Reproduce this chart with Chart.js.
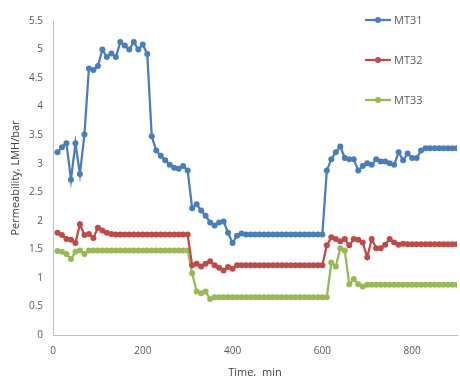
<!DOCTYPE html>
<html>
<head>
<meta charset="utf-8">
<script src="https://cdn.jsdelivr.net/npm/chart.js@4"></script>
<style>
html,body{margin:0;padding:0;background:#fff;}
#c{display:block;}
</style>
</head>
<body>
<canvas id="c" width="460" height="376"></canvas>
<script>
const timeMin = [10,20,30,40,50,60,70,80,90,100,110,120,130,140,150,160,170,180,190,200,
  210,220,230,240,250,260,270,280,290,300,310,320,330,340,350,360,370,380,390,400,
  410,420,430,440,450,460,470,480,490,500,510,520,530,540,550,560,570,580,590,600,
  610,620,630,640,650,660,670,680,690,700,710,720,730,740,750,760,770,780,790,800,
  810,820,830,840,850,860,870,880,890,900];

const mt31 = [3.20,3.29,3.36,2.72,3.36,2.82,3.51,
  4.67,4.64,4.71,5.00,4.87,4.93,4.87,
  5.13,5.07,5.00,5.13,5.00,5.09,4.92,
  3.48,3.23,3.14,3.06,2.98,2.93,2.91,2.96,2.88,
  2.22,2.29,2.18,2.09,1.97,1.92,1.97,1.99,1.79,1.61,1.74,1.78,
  1.76,1.76,1.76,1.76,1.76,1.76,1.76,1.76,1.76,1.76,1.76,1.76,1.76,1.76,1.76,1.76,1.76,1.76,
  2.88,3.08,3.20,3.30,3.10,3.08,3.08,2.88,2.96,3.01,2.98,3.08,3.04,3.04,3.01,2.98,3.20,3.06,3.18,3.10,3.10,3.23,3.27,
  3.27,3.27,3.27,3.27,3.27,3.27,3.27];

const mt32 = [1.79,1.75,1.68,1.67,1.61,1.94,1.75,1.77,1.70,1.88,1.83,1.79,1.77,
  1.76,1.76,1.76,1.76,1.76,1.76,1.76,1.76,1.76,1.76,1.76,1.76,1.76,1.76,1.76,1.76,1.76,
  1.22,1.25,1.20,1.25,1.29,1.22,1.18,1.13,1.19,1.16,1.22,
  1.22,1.22,1.22,1.22,1.22,1.22,1.22,1.22,1.22,1.22,1.22,1.22,1.22,1.22,1.22,1.22,1.22,1.22,1.22,
  1.57,1.71,1.68,1.64,1.68,1.57,1.68,1.67,1.62,1.36,1.68,1.52,1.52,1.58,1.68,1.62,1.58,1.60,
  1.59,1.59,1.59,1.59,1.59,1.59,1.59,1.59,1.59,1.59,1.59,1.59];

const mt33 = [1.47,1.46,1.42,1.33,1.46,1.48,1.42,
  1.48,1.48,1.48,1.48,1.48,1.48,1.48,1.48,1.48,1.48,1.48,1.48,1.48,1.48,1.48,1.48,1.48,1.48,1.48,1.48,1.48,1.48,1.48,
  1.08,0.76,0.73,0.76,0.63,
  0.66,0.66,0.66,0.66,0.66,0.66,0.66,0.66,0.66,0.66,0.66,0.66,0.66,0.66,0.66,0.66,0.66,0.66,0.66,0.66,0.66,0.66,0.66,0.66,0.66,0.66,
  1.27,1.20,1.52,1.48,0.89,0.98,0.89,0.85,
  0.88,0.88,0.88,0.88,0.88,0.88,0.88,0.88,0.88,0.88,0.88,0.88,0.88,0.88,0.88,0.88,0.88,0.88,0.88,0.88,0.88];

const seriesNames = ['MT31','MT32','MT33'];
const seriesColors = ['#4a7ebb','#be4b48','#98b954'];
const xTitle = 'Time,  min';
const yTitle = 'Permeability, LMH/bar';

const FONT = '"Open Sans", sans-serif';

function toPoints(vals){ return vals.map((v,i)=>({x: timeMin[i], y: v})); }

const legendPlugin = {
  id: 'sideLegend',
  afterDraw(chart){
    const ctx = chart.ctx;
    ctx.save();
    chart.data.datasets.forEach((ds, i) => {
      const y = 20 + 40*i;
      ctx.strokeStyle = ds.borderColor;
      ctx.lineWidth = 2.25;
      ctx.beginPath(); ctx.moveTo(365, y); ctx.lineTo(391, y); ctx.stroke();
      ctx.fillStyle = ds.borderColor;
      ctx.beginPath(); ctx.arc(378, y, 3, 0, Math.PI*2); ctx.fill();
      ctx.fillStyle = '#595959';
      ctx.font = '11px ' + FONT;
      ctx.textBaseline = 'middle';
      ctx.textAlign = 'left';
      ctx.fillText(ds.label, 394, y + 0.5);
    });
    ctx.restore();
  }
};

new Chart(document.getElementById('c'), {
  type: 'line',
  data: {
    datasets: [mt31, mt32, mt33].map((vals, i) => ({
      label: seriesNames[i],
      data: toPoints(vals),
      borderColor: seriesColors[i],
      backgroundColor: seriesColors[i],
      borderWidth: 2.25,
      pointRadius: 3,
      pointBorderWidth: 0,
      pointHoverRadius: 3,
      tension: 0,
      fill: false
    }))
  },
  options: {
    responsive: false,
    animation: false,
    events: [],
    layout: { padding: { top: 21, right: 1, left: 0, bottom: 0 } },
    plugins: { legend: { display: false }, tooltip: { enabled: false } },
    scales: {
      x: {
        type: 'linear',
        min: 0, max: 900,
        grid: { display: false, drawTicks: false },
        border: { display: true, color: '#bfbfbf', width: 1 },
        ticks: { stepSize: 200, includeBounds: false, padding: 10, color: '#595959', font: { family: FONT, size: 10 }, maxRotation: 0 },
        title: { display: true, text: xTitle, color: '#404040', font: { family: FONT, size: 11, lineHeight: 1 }, padding: { top: 0, bottom: -2 } },
        afterFit(s){ s.height = 41; }
      },
      y: {
        min: 0, max: 5.5,
        grid: { display: false, drawTicks: false },
        border: { display: true, color: '#bfbfbf', width: 1 },
        ticks: { stepSize: 0.5, padding: 10, color: '#595959', font: { family: FONT, size: 10 }, callback: (v) => String(Math.round(v * 10) / 10) },
        title: { display: true, text: yTitle, color: '#404040', font: { family: FONT, size: 11, lineHeight: 1.2 }, padding: { top: 9, bottom: 0 } },
        afterFit(s){ s.width = 53; }
      }
    }
  },
  plugins: [legendPlugin]
});
</script>
</body>
</html>
